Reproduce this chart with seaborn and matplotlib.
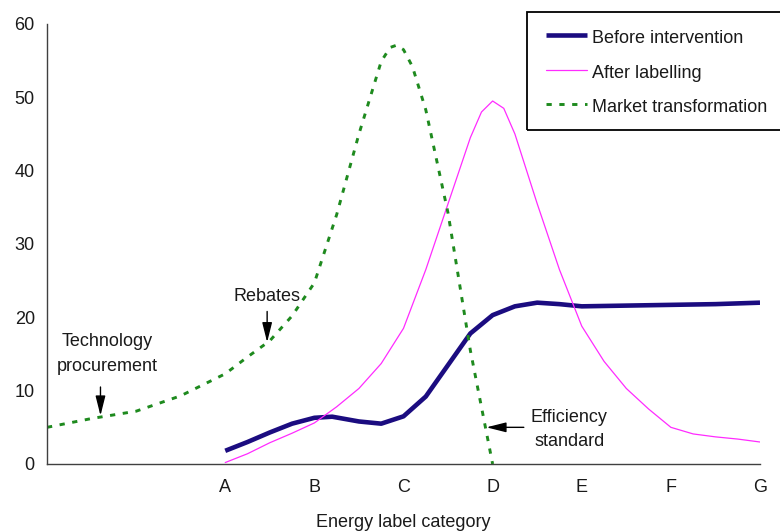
import matplotlib
matplotlib.use("Agg")
import matplotlib.pyplot as plt
from matplotlib.patches import Rectangle
import seaborn as sns
import pandas as pd

# ---- data (x position: A=0 ... G=6; two unlabeled positions before A) ----
categories = ["", "", "A", "B", "C", "D", "E", "F", "G"]
cat_pos = [-2, -1, 0, 1, 2, 3, 4, 5, 6]

before_x = [0, 0.25, 0.5, 0.75, 1, 1.2, 1.5, 1.75, 2, 2.25, 2.5, 2.75, 3,
            3.25, 3.5, 3.75, 4, 4.5, 5, 5.5, 6]
before_y = [1.8, 3.0, 4.3, 5.5, 6.3, 6.45, 5.8, 5.5, 6.5, 9.2, 13.5, 17.8, 20.3,
            21.5, 22.0, 21.8, 21.5, 21.6, 21.7, 21.8, 22.0]

after_x = [0, 0.25, 0.5, 0.75, 1, 1.25, 1.5, 1.75, 2, 2.25, 2.5, 2.75, 2.875,
           3, 3.125, 3.25, 3.5, 3.75, 4, 4.25, 4.5, 4.75, 5, 5.25, 5.5, 5.75, 6]
after_y = [0.2, 1.4, 2.9, 4.2, 5.6, 7.8, 10.3, 13.7, 18.5, 26.5, 35.5, 44.5, 48.0,
           49.5, 48.5, 45.0, 35.5, 26.5, 18.8, 14.0, 10.3, 7.5, 5.0, 4.1, 3.7, 3.4, 3.0]

market_x = [-2, -1.5, -1, -0.5, 0, 0.25, 0.5, 0.75, 1, 1.25, 1.5, 1.75, 1.85,
            1.92, 2, 2.1, 2.25, 2.5, 2.75, 3]
market_y = [5.0, 6.2, 7.2, 9.3, 12.3, 14.6, 16.8, 20.2, 24.7, 34.0, 45.0, 54.9, 56.8,
            57.1, 56.5, 54.2, 48.3, 34.2, 15.5, 0.0]

series_names = ["Before intervention", "After labelling", "Market transformation"]
y_ticks = [0, 10, 20, 30, 40, 50, 60]

df_before = pd.DataFrame({"x": before_x, "y": before_y})
df_after = pd.DataFrame({"x": after_x, "y": after_y})
df_market = pd.DataFrame({"x": market_x, "y": market_y})

# ---- styling ----
sns.set_theme(style="white")
plt.rcParams["font.family"] = ["Liberation Sans", "DejaVu Sans"]
TXT = "#1a1a1a"
SPINE = "#404040"
FS = 13

fig = plt.figure(figsize=(7.8, 5.32), dpi=100)
ax = fig.add_axes([47 / 780, 1 - 464 / 532, (760 - 47) / 780, (464 - 24) / 532])

sns.lineplot(data=df_before, x="x", y="y", ax=ax, color="#1b0c80", linewidth=3.3,
             label=series_names[0], legend=False, solid_capstyle="butt")
sns.lineplot(data=df_after, x="x", y="y", ax=ax, color="#ff2bff", linewidth=0.9,
             label=series_names[1], legend=False)
sns.lineplot(data=df_market, x="x", y="y", ax=ax, color="#1e8a1e", linewidth=2.1,
             linestyle=(0, (1.8, 2.6)), label=series_names[2], legend=False)

ax.set_xlim(-2, 6)
ax.set_ylim(0, 60)
ax.set_xticks(cat_pos)
ax.set_xticklabels(categories)
ax.set_yticks(y_ticks)
ax.set_yticklabels([str(v) for v in y_ticks])
ax.set_ylabel("")
ax.set_xlabel("Energy label category", fontsize=FS, color=TXT, labelpad=13)

for s in ["top", "right"]:
    ax.spines[s].set_visible(False)
for s in ["left", "bottom"]:
    ax.spines[s].set_color(SPINE)
    ax.spines[s].set_linewidth(1.0)
ax.tick_params(axis="both", direction="inout", length=7.5, width=1.0, color=SPINE,
               labelsize=FS, labelcolor=TXT, pad=5)
ax.tick_params(axis="x", pad=7)

# ---- annotations ----
arrow = dict(arrowstyle="-|>,head_length=1.2,head_width=0.3", color="black",
             lw=1.0, mutation_scale=10, shrinkA=0, shrinkB=0)
ax.annotate("", xy=(-1.40, 6.6), xytext=(-1.40, 10.5), arrowprops=arrow)
ax.text(-1.32, 15.0, "Technology\nprocurement", ha="center", va="center",
        fontsize=FS, color=TXT, linespacing=1.6)
ax.annotate("", xy=(0.47, 16.6), xytext=(0.47, 20.8), arrowprops=arrow)
ax.text(0.47, 22.8, "Rebates", ha="center", va="center", fontsize=FS, color=TXT)
ax.annotate("", xy=(2.93, 5.0), xytext=(3.35, 5.0), arrowprops=arrow)
ax.text(3.86, 4.7, "Efficiency\nstandard", ha="center", va="center",
        fontsize=FS, color=TXT, linespacing=1.6)

# ---- legend ----
handles, labels = ax.get_legend_handles_labels()
leg = fig.legend(handles, labels, loc="upper left",
                 bbox_to_anchor=(546 / 780, 1 - 27 / 532),
                 bbox_transform=fig.transFigure, frameon=False, fontsize=FS,
                 handlelength=2.25, handleheight=1.3, handletextpad=0.28,
                 labelspacing=0.82, borderaxespad=0, borderpad=0)
for t in leg.get_texts():
    t.set_color(TXT)
fig.patches.append(Rectangle((527 / 780, 1 - 130 / 532), 280 / 780, 118 / 532,
                             transform=fig.transFigure, fill=False,
                             edgecolor="black", linewidth=1.3, clip_on=False))

fig.savefig("out.png", dpi=100)
